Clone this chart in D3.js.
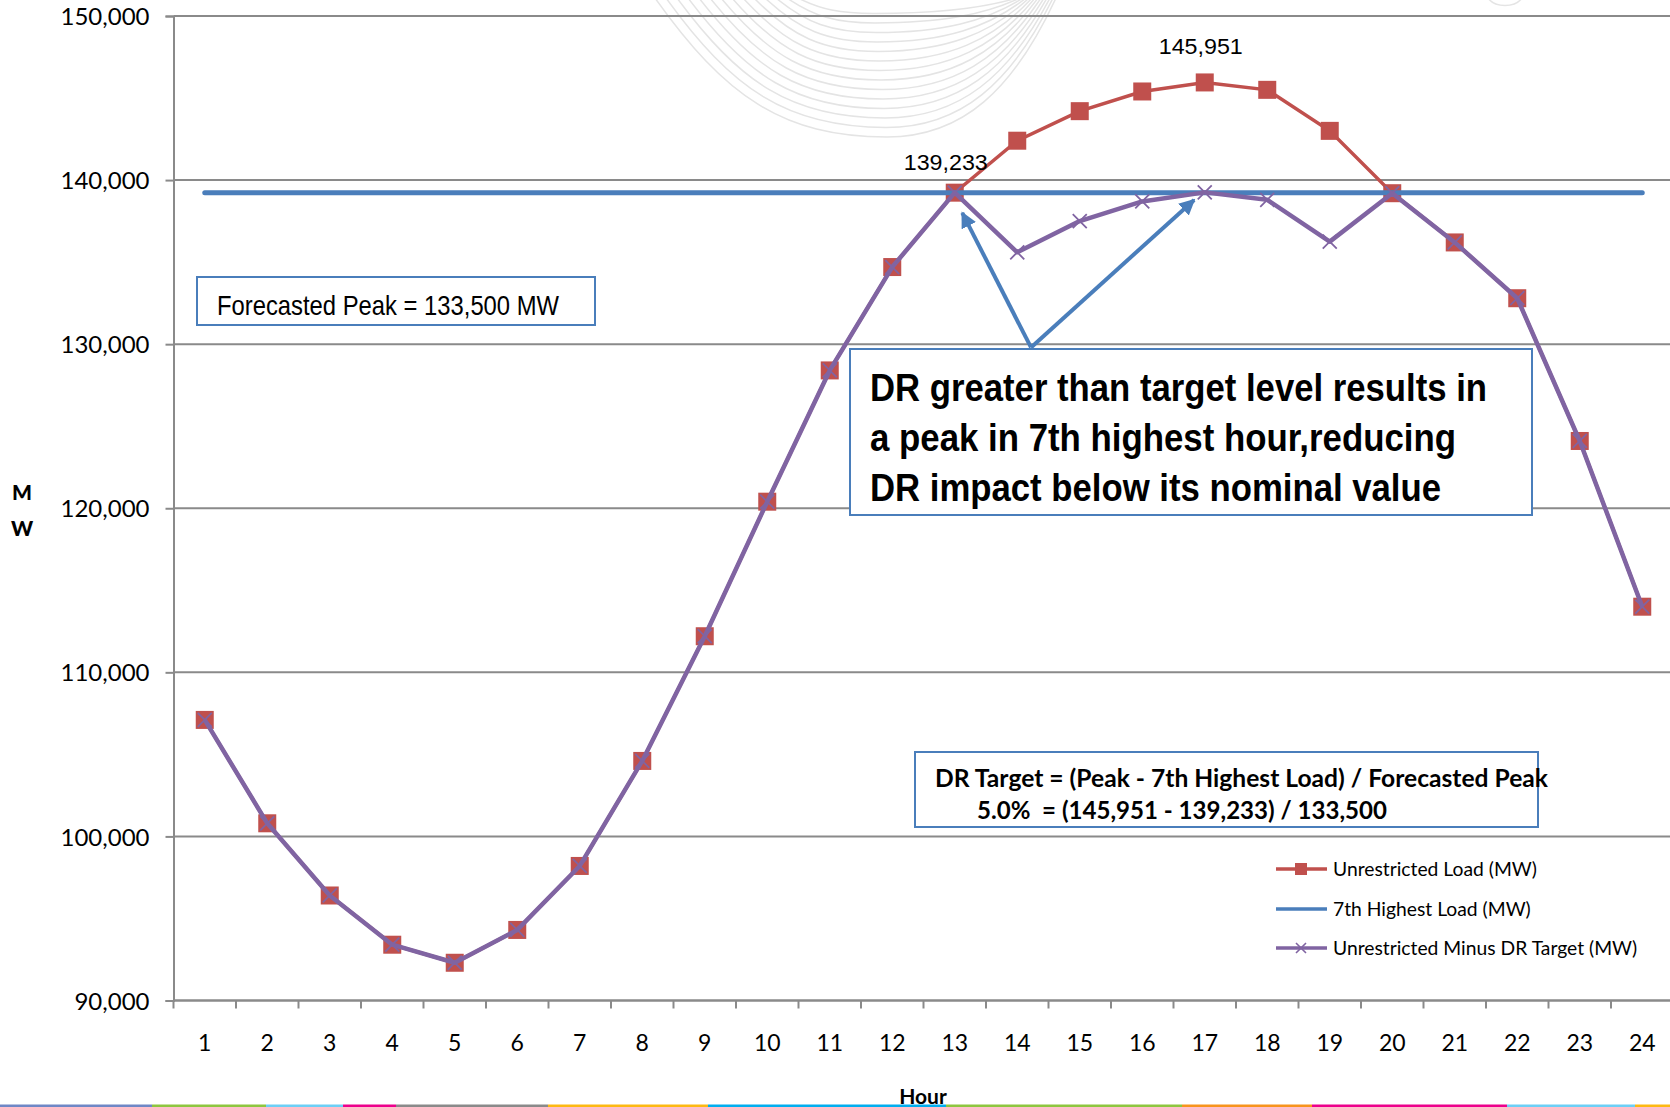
<html>
<head>
<script src="https://d3js.org/d3.v7.min.js"></script>
<style>
  body { margin: 0; background: #fff; }
  svg { display: block; }
</style>
</head>
<body>
<script>
// data
var hours = [1,2,3,4,5,6,7,8,9,10,11,12,13,14,15,16,17,18,19,20,21,22,23,24];
var unrestricted = [107100,100800,96400,93400,92300,94300,98200,104600,112200,120400,128400,134700,
                    139233,142400,144200,145400,145951,145500,143000,139200,136200,132800,124100,114000];
var seventhHighest = [139233,139233,139233,139233,139233,139233,139233,139233,139233,139233,139233,139233,
                      139233,139233,139233,139233,139233,139233,139233,139233,139233,139233,139233,139233];
var minusDR = [107100,100800,96400,93400,92300,94300,98200,104600,112200,120400,128400,134700,
               139233,135600,137500,138700,139250,138800,136250,139200,136200,132800,124100,114000];
var yTicks = [90000,100000,110000,120000,130000,140000,150000];
var legendNames = ['Unrestricted Load (MW)', '7th Highest Load (MW)', 'Unrestricted Minus DR Target (MW)'];
var peakLabels = [{hour:13, value:139233}, {hour:17, value:145951}];

var W = 1670, H = 1107;
var margin = {top:16, left:173.5, bottom:106.5};

var red = '#C0504D', blue = '#4A7EBB', purple = '#8064A2', grid = '#8a8a8a';

var svg = d3.select('body').append('svg').attr('width', W).attr('height', H);

// scales
var x = d3.scaleBand().domain(hours).range([margin.left, margin.left + 24*62.5]).padding(0);
var xc = function(h){ return x(h) + x.bandwidth()/2; };
var xLin = d3.scaleLinear().domain([1,24]).range([xc(1), xc(24)]);
var y = d3.scaleLinear().domain([90000,150000]).range([H - margin.bottom, margin.top]);

// faint background swoosh from the slide template
var deco = svg.append('g').attr('fill','none').attr('stroke','#e4e4e4').attr('stroke-width',1.5);
for (var i = 0; i < 14; i++) {
  var x0 = 655 + i*11, x1 = 1056 - i*3, xm = 887 - i*1, yb = 137 - i*9.5;
  deco.append('path').attr('d',
    'M' + x0 + ',-2 C' + (x0 + 0.3*(xm-x0)) + ',' + (0.7*yb) + ' ' + (xm - 0.45*(xm-x0)) + ',' + yb + ' ' + xm + ',' + yb +
    ' C' + (xm + 0.45*(x1-xm)) + ',' + yb + ' ' + (x1 - 0.25*(x1-xm)) + ',' + (0.65*yb) + ' ' + x1 + ',-2');
}
deco.append('path').attr('d','M1488,-2 C1495,8 1515,8 1522,-2');

// bottom colour strip of the slide
var strip = [[0,152,'#6f87c6'],[152,266,'#8dc63f'],[266,343,'#6ccff6'],[343,396,'#ec008c'],[396,548,'#8a8a8a'],
             [548,708,'#fdb913'],[708,946,'#00aeef'],[946,1182,'#8dc63f'],[1182,1312,'#f7941d'],[1312,1507,'#ec008c'],
             [1507,1635,'#6ccff6'],[1635,1670,'#fdb913']];
svg.selectAll('rect.strip').data(strip).enter().append('rect')
  .attr('x', d=>d[0]).attr('width', d=>d[1]-d[0]).attr('y', H-2.5).attr('height', 2.5).attr('fill', d=>d[2]);

// gridlines
svg.append('g').selectAll('line').data(yTicks).enter().append('line')
  .attr('x1', margin.left).attr('x2', W).attr('y1', d=>y(d)).attr('y2', d=>y(d))
  .attr('stroke', grid).attr('stroke-width', 2);

// y axis
var yAxis = svg.append('g').attr('transform','translate(' + margin.left + ',0)')
  .call(d3.axisLeft(y).tickValues(yTicks).tickFormat(d3.format(',')).tickSize(8).tickPadding(16));
yAxis.select('.domain').attr('stroke', grid).attr('stroke-width', 2);
yAxis.selectAll('.tick line').attr('stroke', grid).attr('stroke-width', 2);
yAxis.selectAll('.tick text').attr('font-family','Lato, sans-serif').attr('font-size', 24).attr('fill','#000').attr('dy','0.36em');

// x axis: ticks between categories
var xg = svg.append('g');
xg.append('line').attr('x1', margin.left).attr('x2', W).attr('y1', y(90000)).attr('y2', y(90000))
  .attr('stroke', grid).attr('stroke-width', 2);
xg.selectAll('line.tk').data(hours).enter().append('line').attr('class','tk')
  .attr('x1', d=>x(d)).attr('x2', d=>x(d)).attr('y1', y(90000)).attr('y2', y(90000) + 8)
  .attr('stroke', grid).attr('stroke-width', 2);
xg.selectAll('text').data(hours).enter().append('text')
  .attr('x', d=>xc(d)).attr('y', 1051).attr('text-anchor','middle')
  .attr('font-family','Lato, sans-serif').attr('font-size', 23).text(d=>d);

// axis titles
svg.append('text').attr('x', 923).attr('y', 1104).attr('text-anchor','middle')
  .attr('font-family','Lato, sans-serif').attr('font-weight','bold').attr('font-size', 21).text('Hour');
svg.append('text').attr('x', 22).attr('y', 500).attr('text-anchor','middle')
  .attr('font-family','Lato, sans-serif').attr('font-weight','900').attr('font-size', 21).text('M');
svg.append('text').attr('x', 22).attr('y', 536).attr('text-anchor','middle')
  .attr('font-family','Lato, sans-serif').attr('font-weight','900').attr('font-size', 21).text('W');

var line = d3.line().x((d,i)=>xc(hours[i])).y(d=>y(d));

// series 1: unrestricted load
svg.append('path').attr('d', line(unrestricted)).attr('fill','none').attr('stroke', red).attr('stroke-width', 3.5);
svg.selectAll('rect.mk').data(unrestricted).enter().append('rect').attr('class','mk')
  .attr('x', (d,i)=>xc(hours[i]) - 9).attr('y', d=>y(d) - 9).attr('width', 18).attr('height', 18).attr('fill', red);

// series 2: 7th highest load
svg.append('path').attr('d', line(seventhHighest)).attr('fill','none').attr('stroke', blue)
  .attr('stroke-width', 5).attr('stroke-linecap','round');

// series 3: unrestricted minus DR target
svg.append('path').attr('d', line(minusDR)).attr('fill','none').attr('stroke', purple).attr('stroke-width', 4.5)
  .attr('stroke-linejoin','round');
svg.selectAll('path.xm').data(minusDR).enter().append('path').attr('class','xm')
  .attr('d', (d,i)=>{ var cx = xc(hours[i]), cy = y(d), s = 7;
    return 'M'+(cx-s)+','+(cy-s)+'L'+(cx+s)+','+(cy+s)+'M'+(cx-s)+','+(cy+s)+'L'+(cx+s)+','+(cy-s); })
  .attr('stroke', purple).attr('stroke-width', 1.8).attr('fill','none');

// peak labels
svg.selectAll('text.pk').data(peakLabels).enter().append('text').attr('class','pk')
  .attr('x', (d,i)=>xc(d.hour) - (i===0 ? 9 : 4)).attr('y', (d,i)=>y(d.value) - (i===0 ? 23 : 28))
  .attr('text-anchor','middle').attr('font-family','"Liberation Sans", Arial, sans-serif').attr('font-size', 22)
  .attr('textLength', 84).attr('lengthAdjust','spacingAndGlyphs').text(d=>d3.format(',')(d.value));

// arrows
svg.append('defs').append('marker').attr('id','ah').attr('viewBox','0 0 10 10').attr('refX', 9).attr('refY', 5)
  .attr('markerWidth', 4).attr('markerHeight', 4).attr('orient','auto')
  .append('path').attr('d','M0,0 L10,5 L0,10 z').attr('fill', blue);
var base = {hour:14.22, value:129800};
var tips = [{hour:13.12, value:138000}, {hour:16.83, value:138790}];
svg.selectAll('line.arr').data(tips).enter().append('line').attr('class','arr')
  .attr('x1', xLin(base.hour)).attr('y1', y(base.value)).attr('x2', d=>xLin(d.hour)).attr('y2', d=>y(d.value))
  .attr('stroke', blue).attr('stroke-width', 4).attr('marker-end','url(#ah)');

// annotation boxes
function box(x0, y0, w, h) {
  svg.append('rect').attr('x', x0).attr('y', y0).attr('width', w).attr('height', h)
    .attr('fill','#fff').attr('stroke', blue).attr('stroke-width', 2);
}
box(197, 277, 398, 48);
svg.append('text').attr('x', 217).attr('y', 315).attr('font-family','"Liberation Sans", Arial, sans-serif')
  .attr('font-size', 28).attr('textLength', 342).attr('lengthAdjust','spacingAndGlyphs')
  .text('Forecasted Peak = 133,500 MW');

box(850, 349, 682, 166);
var big = [['DR greater than target level results in', 617, 401],
           ['a peak in 7th highest hour,reducing', 586, 451],
           ['DR impact below its nominal value', 571, 501]];
svg.selectAll('text.big').data(big).enter().append('text').attr('class','big')
  .attr('x', 870).attr('y', d=>d[2]).attr('font-family','"Liberation Sans", Arial, sans-serif')
  .attr('font-weight','bold').attr('font-size', 38).attr('textLength', d=>d[1]).attr('lengthAdjust','spacingAndGlyphs')
  .text(d=>d[0]);

box(915, 752, 623, 75);
svg.append('text').attr('x', 935).attr('y', 787).attr('font-family','Lato, sans-serif').attr('font-weight','bold')
  .attr('font-size', 24).attr('textLength', 613).attr('lengthAdjust','spacingAndGlyphs')
  .text('DR Target = (Peak - 7th Highest Load) / Forecasted Peak');
svg.append('text').attr('x', 977).attr('y', 819).attr('font-family','Lato, sans-serif').attr('font-weight','bold')
  .attr('font-size', 24).attr('textLength', 410).attr('lengthAdjust','spacingAndGlyphs').attr('xml:space','preserve')
  .text('5.0%  = (145,951 - 139,233) / 133,500');

// legend
var lg = svg.append('g').attr('font-family','Lato, sans-serif').attr('font-size', 19.3);
var lgY = [869, 909, 948], lgCol = [red, blue, purple];
legendNames.forEach(function(n, i){
  lg.append('line').attr('x1', 1276).attr('x2', 1327).attr('y1', lgY[i]).attr('y2', lgY[i])
    .attr('stroke', lgCol[i]).attr('stroke-width', 3.5);
  if (i === 0) lg.append('rect').attr('x', 1295).attr('y', lgY[i]-6).attr('width', 12).attr('height', 12).attr('fill', red);
  if (i === 2) lg.append('path').attr('d','M1296,'+(lgY[i]-5)+'L1306,'+(lgY[i]+5)+'M1296,'+(lgY[i]+5)+'L1306,'+(lgY[i]-5))
    .attr('stroke', purple).attr('stroke-width', 1.6);
  lg.append('text').attr('x', 1333).attr('y', lgY[i]).attr('dy','0.35em').text(n);
});
</script>
</body>
</html>
